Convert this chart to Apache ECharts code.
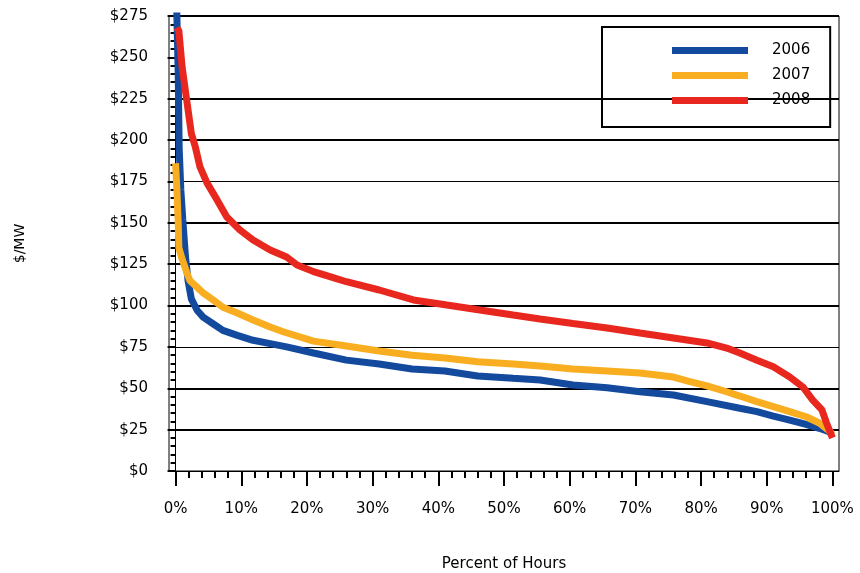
<!DOCTYPE html>
<html>
<head>
<meta charset="utf-8">
<script src="https://cdn.jsdelivr.net/npm/echarts@6/dist/echarts.min.js"></script>
<style>
  html, body { margin: 0; padding: 0; background: #fff; }
  #chart { width: 860px; height: 573px; }
</style>
</head>
<body>
<div id="chart"></div>
<script>
// Price duration curves: price ($/MW) against percent of hours, one curve per year.
const years = ['2006', '2007', '2008'];
const colors = ['#134a9e', '#f8ae20', '#e8271e'];

const pct2006 = [0, 0.2, 0.4, 0.55, 0.8, 1.1, 1.5, 1.9, 2.4, 3.3, 4.2, 5.7, 7.2, 9.4, 11.8, 14.4, 16.9, 21, 26, 31, 36, 41, 46, 51.4, 55.5, 60.5, 65.7, 70.7, 75.8, 80.9, 85.9, 88.5, 91, 93.5, 96, 98, 100];
const usd2006 = [320, 275, 240, 195, 170, 152, 130, 115, 104, 97, 93, 89, 85, 82, 79, 77, 75, 71.3, 67, 64.7, 61.6, 60.4, 57.4, 56, 55, 52, 50.3, 47.9, 45.9, 41.9, 37.9, 35.9, 33.2, 30.8, 28.2, 25.8, 23];

const pct2007 = [0, 0.2, 0.4, 0.5, 1.0, 1.7, 2.2, 3.3, 4.2, 5.7, 7.2, 9.4, 11.8, 14.4, 16.5, 21, 26, 31, 36, 41, 46, 51.4, 55.5, 60.5, 65.7, 70.7, 75.8, 78.3, 80.9, 83.9, 85.9, 88.5, 91, 93.5, 96, 98, 99.6, 100];
const usd2007 = [186, 170, 150, 135, 128, 120, 115, 111, 107.6, 103.4, 99, 95.5, 91.3, 87, 84, 78.5, 75.5, 72.5, 70, 68.3, 66, 64.7, 63.5, 61.6, 60.4, 59.2, 56.8, 54, 51.4, 47.9, 45.3, 41.9, 38.9, 35.9, 32.8, 29, 24, 22];

const pct2008 = [0.2, 0.5, 1.0, 1.7, 2.4, 3.0, 3.7, 4.8, 6.3, 7.8, 9.8, 11.8, 14.4, 16.9, 18.5, 21, 23.5, 26, 31, 36.2, 41.3, 46.3, 51.4, 55.5, 60.5, 65.7, 70.7, 75.8, 80.9, 83.9, 85.9, 88.5, 91, 93.5, 95.5, 97, 98.4, 99.1, 100];
const usd2008 = [268, 266, 244, 224, 204, 196, 184, 174, 164, 153.5, 145.7, 139.6, 133.6, 129.3, 124.5, 120.5, 117.5, 114.4, 109.4, 103.4, 100.3, 97.3, 94.3, 91.9, 89.2, 86.4, 83.4, 80.4, 77.4, 74.3, 71.3, 67, 63, 56.8, 50.8, 42.9, 36.9, 29, 20];

const xMajorTicks = [0, 10, 20, 30, 40, 50, 60, 70, 80, 90, 100];
const xMinorTicks = [2, 4, 6, 8, 12, 14, 16, 18, 22, 24, 26, 28, 32, 34, 36, 38, 42, 44, 46, 48,
  52, 54, 56, 58, 62, 64, 66, 68, 72, 74, 76, 78, 82, 84, 86, 88, 92, 94, 96, 98];

const pcts = [pct2006, pct2007, pct2008];
const usds = [usd2006, usd2007, usd2008];

const FONT = 'DejaVu Sans';
const INK = '#000';

// heavy rules on every $25 except $75, $175 and $250; light rules at $75 and $175
const heavyRule = [
  'transparent', INK, INK, 'transparent', INK, INK, INK, 'transparent', INK, INK, 'transparent', INK
];
const lightRule = [
  'transparent', 'transparent', 'transparent', INK, 'transparent', 'transparent', 'transparent', INK,
  'transparent', 'transparent', 'transparent', 'transparent'
];

const chart = echarts.init(document.getElementById('chart'), null, { renderer: 'canvas' });

chart.setOption({
  animation: false,
  backgroundColor: '#fff',
  textStyle: { fontFamily: FONT },
  grid: {
    left: 169, right: 21, top: 16, bottom: 102,
    containLabel: false, outerBoundsMode: 'none',
    show: true, borderColor: INK, borderWidth: 1, backgroundColor: 'transparent'
  },
  legend: {
    orient: 'vertical',
    left: 602, top: 27,
    padding: [16, 20, 19, 70],
    borderColor: INK, borderWidth: 2,
    itemWidth: 76, itemHeight: 7, itemGap: 10,
    icon: 'rect',
    data: years,
    textStyle: { fontFamily: FONT, fontSize: 15, color: INK, lineHeight: 15, padding: [0, 0, 0, 19] }
  },
  xAxis: [
    {
      type: 'value', min: -1, max: 101,
      name: 'Percent of Hours', nameLocation: 'middle', nameGap: 86,
      nameTextStyle: { fontFamily: FONT, fontSize: 15, color: INK },
      axisLine: { show: true, onZero: false, lineStyle: { color: INK, width: 1 } },
      axisTick: { show: true, customValues: xMajorTicks, length: 15, lineStyle: { color: INK, width: 2 } },
      axisLabel: {
        customValues: xMajorTicks, margin: 31,
        fontFamily: FONT, fontSize: 15, color: INK,
        formatter: v => v + '%'
      },
      splitLine: { show: false }
    },
    {
      type: 'value', min: -1, max: 101, position: 'bottom',
      axisLine: { show: false },
      axisTick: { show: true, customValues: xMinorTicks, length: 7, lineStyle: { color: INK, width: 2 } },
      axisLabel: { show: false },
      splitLine: { show: false }
    }
  ],
  yAxis: [
    {
      type: 'value', min: 0, max: 275, interval: 25,
      name: '$/MW', nameLocation: 'middle', nameGap: 142, nameRotate: 90,
      nameTextStyle: { fontFamily: FONT, fontSize: 14, color: INK },
      axisLine: { show: true, lineStyle: { color: INK, width: 1 } },
      axisTick: { show: true, length: 8, lineStyle: { color: INK, width: 2 } },
      minorTick: { show: true, splitNumber: 5, length: 5, lineStyle: { color: INK, width: 2 } },
      axisLabel: {
        margin: 21, fontFamily: FONT, fontSize: 15, color: INK,
        formatter: v => '$' + v
      },
      splitLine: { show: true, lineStyle: { color: heavyRule, width: 2 } }
    },
    {
      type: 'value', min: 0, max: 275, interval: 25, position: 'left',
      axisLine: { show: false }, axisTick: { show: false }, axisLabel: { show: false },
      splitLine: { show: true, lineStyle: { color: lightRule, width: 1 } }
    }
  ],
  series: years.map((yr, i) => ({
    name: yr,
    type: 'line',
    xAxisIndex: 0,
    yAxisIndex: 0,
    z: 3,
    showSymbol: false,
    symbol: 'none',
    clip: true,
    color: colors[i],
    lineStyle: { color: colors[i], width: 7 },
    data: pcts[i].map((p, k) => [p, usds[i][k]])
  }))
});
</script>
</body>
</html>
